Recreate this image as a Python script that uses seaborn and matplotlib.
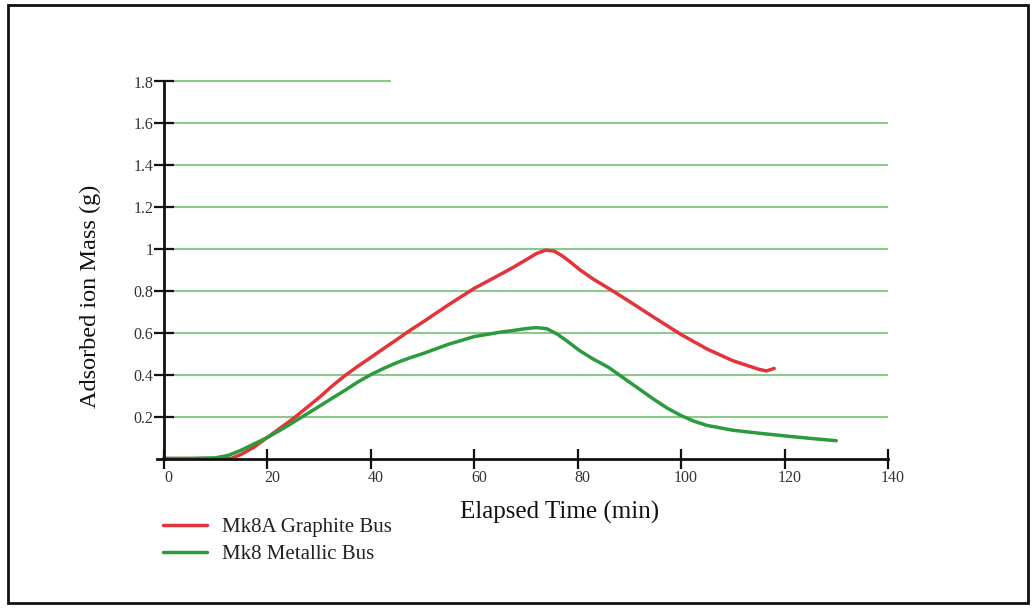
import matplotlib
matplotlib.use("Agg")
import matplotlib.pyplot as plt
import matplotlib.transforms as mtransforms
from matplotlib.patches import Rectangle
from matplotlib.lines import Line2D
import pandas as pd
import seaborn as sns

# Elapsed time (min) and adsorbed ion mass (g) for each bus design
graphite_time = [0, 5, 10, 13, 15, 17.5, 20, 22.5, 25, 27.5, 30, 32.5, 35, 37.5, 40,
                 42.5, 45, 47.5, 50, 55, 60, 65, 67.5, 70, 72, 73.8, 75.5, 77, 78.5, 80.5,
                 83, 86.8, 90, 95, 100, 105, 110, 115, 116.5, 118]
graphite_mass = [0, 0, 0, 0, 0.02, 0.055, 0.10, 0.145, 0.19, 0.24, 0.29, 0.345, 0.395, 0.44, 0.482,
                 0.525, 0.567, 0.61, 0.65, 0.733, 0.812, 0.878, 0.912, 0.948, 0.978, 0.995, 0.99, 0.968, 0.94, 0.90,
                 0.857, 0.80, 0.75, 0.67, 0.592, 0.523, 0.467, 0.426, 0.418, 0.43]

metallic_time = [0, 5, 10, 12.5, 15, 17.5, 20, 22.5, 25, 27.5, 30, 32.5, 35, 37.5, 40,
                 42.5, 45, 47.5, 50, 55, 60, 65, 67.5, 70, 72, 74, 76, 78, 80.4, 83,
                 86, 88, 90, 95, 97.5, 100, 102.5, 105, 110, 115, 120, 125, 130]
metallic_mass = [0, 0, 0.003, 0.015, 0.04, 0.07, 0.10, 0.135, 0.172, 0.21, 0.248, 0.287, 0.325, 0.365, 0.40,
                 0.43, 0.457, 0.48, 0.50, 0.545, 0.582, 0.603, 0.611, 0.62, 0.625, 0.62, 0.595, 0.56, 0.515, 0.475,
                 0.435, 0.40, 0.365, 0.278, 0.238, 0.205, 0.178, 0.158, 0.135, 0.121, 0.108, 0.096, 0.085]

series_names = ["Mk8A Graphite Bus", "Mk8 Metallic Bus"]
series_colors = ["#e3343a", "#2b9b3e"]

x_ticks = [0, 20, 40, 60, 80, 100, 120, 140]
y_ticks = [0.2, 0.4, 0.6, 0.8, 1.0, 1.2, 1.4, 1.6, 1.8]
y_tick_labels = ["0.2", "0.4", "0.6", "0.8", "1", "1.2", "1.4", "1.6", "1.8"]

df = pd.concat([
    pd.DataFrame({"time": graphite_time, "mass": graphite_mass, "bus": series_names[0]}),
    pd.DataFrame({"time": metallic_time, "mass": metallic_mass, "bus": series_names[1]}),
], ignore_index=True)

sns.set_theme(style="white")
plt.rcParams["font.family"] = ["Liberation Serif", "DejaVu Serif"]

W, H = 1035, 612
fig = plt.figure(figsize=(W / 100, H / 100), dpi=100)
fig.patch.set_facecolor("white")

# plot area in pixels: x from -1.3 (157px) to 140 (888px), y from 0 (458.5px) to 1.8 (81.5px)
ax = fig.add_axes([157 / W, (H - 458.5) / H, (888 - 157) / W, 377 / H])
ax.set_facecolor("none")
ax.set_axisbelow(False)
ax.set_xlim(-1.3, 140)
ax.set_ylim(0, 1.8)

# horizontal guide lines
grid_color = "#8dc98d"
for y in y_ticks[:-1]:
    ax.hlines(y, 0, 140, color=grid_color, lw=1.5, zorder=1)
ax.hlines(1.8, 0, 44, color=grid_color, lw=1.5, zorder=1, clip_on=False)

sns.lineplot(data=df, x="time", y="mass", hue="bus", palette=series_colors,
             hue_order=series_names, sort=False, estimator=None, lw=2.5,
             legend=False, ax=ax, zorder=3)

for s in ["top", "right"]:
    ax.spines[s].set_visible(False)
ax.spines["left"].set_position(("data", 0))
for s in ["left", "bottom"]:
    ax.spines[s].set_color("#111111")
    ax.spines[s].set_linewidth(2.0)
    ax.spines[s].set_zorder(4)

ax.set_xticks(x_ticks)
ax.set_xticklabels([str(t) for t in x_ticks])
ax.set_yticks(y_ticks)
ax.set_yticklabels(y_tick_labels)
ax.tick_params(axis="both", direction="inout", length=15, width=1.6, color="#111111",
               labelsize=11.5, labelcolor="#333333", bottom=True, left=True)
ax.tick_params(axis="x", pad=1)
ax.tick_params(axis="y", pad=0)
shift = mtransforms.ScaledTranslation(5 / 100, 0, fig.dpi_scale_trans)
for lab in ax.get_xticklabels():
    lab.set_transform(lab.get_transform() + shift)
ax.set_xlabel("")
ax.set_ylabel("")

fig.text(559.5 / W, 1 - 512 / H, "Elapsed Time (min)", ha="center", va="center",
         fontsize=18, color="#111111",
         bbox=dict(facecolor="white", edgecolor="none", pad=6))
fig.text(90 / W, 1 - 296 / H, "Adsorbed ion Mass (g)", ha="center", va="center",
         rotation=90, fontsize=17.5, color="#111111")

handles = [Line2D([0], [0], color=c, lw=2.5) for c in series_colors]
fig.legend(handles, series_names, loc="center left",
           bbox_to_anchor=(163 / W, 1 - 541 / H), frameon=False,
           fontsize=15, handlelength=2.1, handletextpad=0.72, labelspacing=0.35,
           borderpad=0, borderaxespad=0, labelcolor="#222222")

fig.patches.append(Rectangle((8 / W, (H - 603) / H), 1020 / W, 598 / H,
                             transform=fig.transFigure, fill=False,
                             edgecolor="#111111", lw=2.0))

fig.savefig("out.png", dpi=100)
